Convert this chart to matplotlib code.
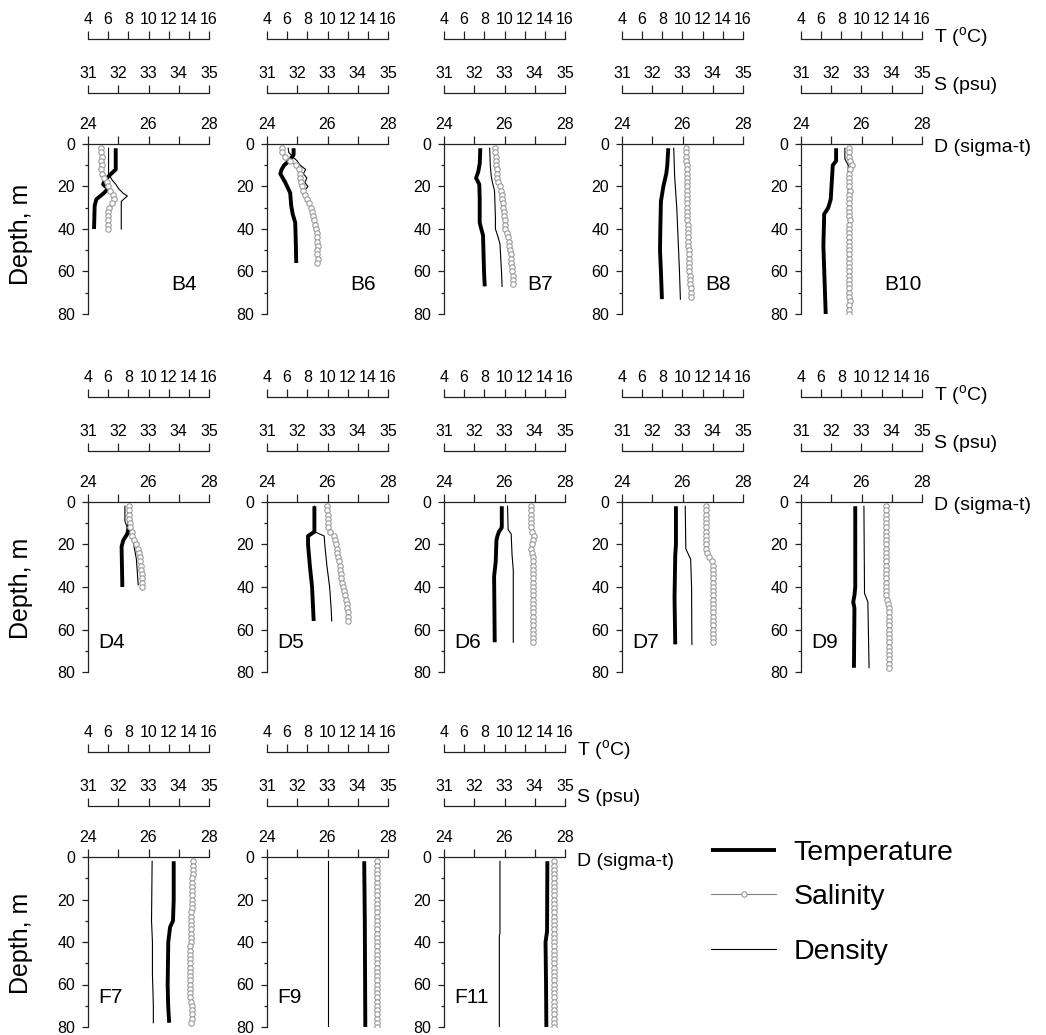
import matplotlib
matplotlib.use('Agg')
import matplotlib.pyplot as plt
from matplotlib.lines import Line2D
from matplotlib.ticker import FixedLocator
import numpy as np

plt.rcParams['font.family'] = ['Liberation Sans', 'DejaVu Sans']
plt.rcParams['mathtext.fontset'] = 'custom'
plt.rcParams['mathtext.rm'] = 'Liberation Sans'

# ---------------- data ----------------
# Temperature (deg C) and density (sigma-t): depth / value pairs
# Salinity (psu): one value every 2 m, starting at 2 m
B4_T_DEPTH = [2, 12, 14, 17, 19, 21, 23, 26, 29, 40]
B4_T = [6.75, 6.75, 6.3, 5.65, 5.5, 5.98, 5.6, 4.83, 4.66, 4.6]
B4_D_DEPTH = [2, 14, 17, 19, 21, 23, 24.5, 25.5, 27, 29, 40]
B4_D = [24.68, 24.68, 24.8, 24.92, 25.01, 25.15, 25.3, 25.22, 25.1, 25.1, 25.1]
B4_S = [31.44, 31.44, 31.45, 31.44, 31.45, 31.44, 31.47, 31.52, 31.62, 31.66,
        31.72, 31.82, 31.87, 31.78, 31.70, 31.67, 31.66, 31.66, 31.65, 31.66]

B6_T_DEPTH = [2, 5, 7.5, 10, 12, 14, 18, 23, 29, 33, 37, 45, 56]
B6_T = [6.64, 6.64, 6.3, 5.7, 5.45, 5.32, 5.8, 6.3, 6.4, 6.55, 6.8, 6.85, 6.9]
B6_D_DEPTH = [2, 4, 6, 8, 10, 12, 14, 16, 18, 20, 21]
B6_D = [24.7, 24.72, 24.85, 25.0, 25.1, 25.28, 25.2, 25.32, 25.25, 25.35, 25.3]
B6_S = [31.50, 31.50, 31.58, 31.75, 31.95, 32.05, 32.10, 32.08, 32.12, 32.15,
        32.18, 32.25, 32.33, 32.40, 32.46, 32.50, 32.52, 32.55, 32.58, 32.62,
        32.66, 32.66, 32.66, 32.67, 32.66, 32.66, 32.67, 32.66]

B7_T_DEPTH = [2, 9, 13, 16, 19, 25, 37, 40, 43, 60, 67]
B7_T = [7.6, 7.55, 7.4, 7.18, 7.5, 7.54, 7.54, 7.7, 7.87, 7.97, 8.04]
B7_D_DEPTH = [2, 10, 15, 18, 22, 35, 40, 43, 47, 60, 67]
B7_D = [25.51, 25.53, 25.56, 25.6, 25.67, 25.7, 25.7, 25.77, 25.85, 25.9, 25.92]
B7_S = [32.70, 32.70, 32.71, 32.72, 32.73, 32.74, 32.75, 32.76, 32.79, 32.85,
        32.88, 32.92, 32.93, 32.95, 32.96, 32.97, 32.98, 33.00, 33.01, 33.03,
        33.08, 33.12, 33.15, 33.16, 33.18, 33.20, 33.22, 33.23, 33.25, 33.26,
        33.27, 33.28, 33.28]

B8_T_DEPTH = [2, 10, 14, 20, 27, 40, 50, 60, 73]
B8_T = [8.59, 8.49, 8.39, 8.1, 7.86, 7.8, 7.77, 7.86, 7.96]
B8_D_DEPTH = [2, 15, 30, 50, 60, 73]
B8_D = [25.71, 25.74, 25.81, 25.87, 25.9, 25.93]
B8_S = [33.13, 33.13, 33.13, 33.13, 33.14, 33.14, 33.14, 33.14, 33.14, 33.14,
        33.15, 33.15, 33.15, 33.15, 33.16, 33.16, 33.16, 33.16, 33.17, 33.17,
        33.18, 33.18, 33.19, 33.19, 33.20, 33.21, 33.21, 33.22,
        33.23, 33.23, 33.24, 33.25, 33.26, 33.27, 33.27, 33.28]

B10_T_DEPTH = [2, 8, 10, 26, 30, 33, 48, 80]
B10_T = [7.48, 7.48, 7.15, 6.95, 6.7, 6.3, 6.22, 6.45]
B10_D_DEPTH = [2, 7, 10, 30, 80]
B10_D = [25.45, 25.45, 25.56, 25.57, 25.58]
B10_S = [32.58, 32.58, 32.59, 32.63, 32.67, 32.61, 32.60, 32.60, 32.60, 32.60,
         32.61, 32.60, 32.60, 32.60, 32.60, 32.60, 32.60, 32.61, 32.60, 32.60,
         32.60, 32.60, 32.60, 32.60, 32.60, 32.60, 32.60, 32.60, 32.60, 32.60,
         32.60, 32.60, 32.60, 32.60, 32.60, 32.60, 32.61, 32.60, 32.60, 32.60]

D4_T_DEPTH = [2, 10, 15, 18, 21, 26, 38, 40]
D4_T = [8.1, 8.1, 7.9, 7.5, 7.33, 7.35, 7.4, 7.4]
D4_D_DEPTH = [2, 9, 12, 15, 19, 27, 39]
D4_D = [25.22, 25.22, 25.3, 25.39, 25.5, 25.6, 25.66]
D4_S = [32.36, 32.36, 32.37, 32.37, 32.38, 32.40, 32.44, 32.47, 32.52, 32.60,
        32.65, 32.68, 32.71, 32.73, 32.75, 32.76, 32.77, 32.78, 32.78, 32.78]

D5_T_DEPTH = [2, 14, 16, 20, 30, 40, 50, 56]
D5_T = [8.7, 8.7, 8.07, 8.07, 8.25, 8.47, 8.57, 8.63]
D5_D_DEPTH = [2, 14, 16, 20, 30, 40, 50, 56]
D5_D = [25.57, 25.57, 25.89, 25.91, 25.98, 26.07, 26.12, 26.14]
D5_S = [32.99, 32.99, 33.00, 33.00, 33.01, 33.03, 33.07, 33.20, 33.26, 33.28,
        33.30, 33.33, 33.36, 33.38, 33.40, 33.42, 33.44, 33.46, 33.48, 33.51,
        33.55, 33.58, 33.62, 33.64, 33.66, 33.67, 33.67, 33.67]

D6_T_DEPTH = [2, 12, 14, 16, 18, 28, 35, 66]
D6_T = [9.73, 9.73, 9.45, 9.3, 9.2, 9.13, 8.97, 9.03]
D6_D_DEPTH = [2, 13, 15, 25, 32, 66]
D6_D = [26.1, 26.12, 26.22, 26.25, 26.29, 26.29]
D6_S = [33.88, 33.88, 33.88, 33.88, 33.88, 33.88, 33.92, 33.99, 33.93, 33.90,
        33.89, 33.92, 33.94, 33.94, 33.94, 33.94, 33.94, 33.94, 33.94, 33.94,
        33.94, 33.94, 33.94, 33.94, 33.94, 33.94, 33.94, 33.94, 33.94, 33.94,
        33.94, 33.94, 33.94]

D7_T_DEPTH = [2, 20, 25, 45, 67]
D7_T = [9.35, 9.35, 9.28, 9.21, 9.28]
D7_D_DEPTH = [2, 22, 27, 40, 67]
D7_D = [26.09, 26.11, 26.27, 26.3, 26.31]
D7_S = [33.78, 33.78, 33.78, 33.78, 33.78, 33.78, 33.78, 33.78, 33.78, 33.78,
        33.78, 33.80, 33.86, 33.96, 34.00, 34.00, 34.00, 34.00, 34.00, 34.00,
        34.00, 34.00, 34.00, 34.00, 34.00, 34.00, 34.00, 34.00, 34.00, 34.00,
        34.00, 34.00, 34.00]

D9_T_DEPTH = [2, 40, 44, 47, 50, 78]
D9_T = [9.38, 9.38, 9.3, 9.18, 9.3, 9.25]
D9_D_DEPTH = [2, 43, 47, 78]
D9_D = [26.08, 26.1, 26.21, 26.25]
D9_S = [33.82, 33.82, 33.82, 33.82, 33.82, 33.82, 33.82, 33.82, 33.82, 33.82,
        33.82, 33.82, 33.82, 33.82, 33.82, 33.82, 33.82, 33.82, 33.82, 33.82,
        33.82, 33.82, 33.85, 33.88, 33.91, 33.92, 33.91, 33.91, 33.91, 33.91,
        33.91, 33.91, 33.91, 33.91, 33.91, 33.91, 33.91, 33.91, 33.91]

F7_T_DEPTH = [2, 20, 30, 33, 40, 60, 70, 78]
F7_T = [12.5, 12.5, 12.43, 12.14, 11.96, 11.9, 11.95, 12.05]
F7_D_DEPTH = [2, 30, 40, 55, 70, 78]
F7_D = [26.12, 26.1, 26.13, 26.13, 26.16, 26.16]
F7_S = [34.48, 34.47, 34.46, 34.46, 34.45, 34.45, 34.45, 34.44, 34.44, 34.44,
        34.43, 34.43, 34.42, 34.42, 34.41, 34.41, 34.40, 34.40, 34.39, 34.39,
        34.38, 34.38, 34.38, 34.38, 34.38, 34.38, 34.38, 34.38, 34.38, 34.38,
        34.38, 34.37, 34.36, 34.40, 34.43, 34.43, 34.43, 34.43, 34.42]

F9_T_DEPTH = [2, 30, 80]
F9_T = [13.64, 13.7, 13.75]
F9_D_DEPTH = [2, 80]
F9_D = [26.0, 26.0]
F9_S = [34.62, 34.62, 34.62, 34.62, 34.62, 34.62, 34.62, 34.62, 34.62, 34.62,
        34.62, 34.62, 34.62, 34.62, 34.62, 34.62, 34.62, 34.62, 34.62, 34.62,
        34.62, 34.62, 34.62, 34.62, 34.62, 34.62, 34.62, 34.62, 34.62, 34.62,
        34.62, 34.62, 34.62, 34.62, 34.62, 34.62, 34.62, 34.62, 34.62, 34.62]

F11_T_DEPTH = [2, 35, 40, 60, 80]
F11_T = [14.25, 14.22, 14.07, 14.12, 14.15]
F11_D_DEPTH = [2, 36, 37, 80]
F11_D = [25.85, 25.85, 25.83, 25.83]
F11_S = [34.63, 34.63, 34.63, 34.63, 34.63, 34.63, 34.63, 34.63, 34.63, 34.63,
         34.63, 34.63, 34.63, 34.63, 34.63, 34.63, 34.63, 34.63, 34.63, 34.63,
         34.63, 34.63, 34.63, 34.63, 34.63, 34.63, 34.63, 34.63, 34.63, 34.63,
         34.63, 34.63, 34.63, 34.63, 34.63, 34.63, 34.63, 34.63, 34.63, 34.63]

ROWS = [
    [("B4", B4_T_DEPTH, B4_T, B4_D_DEPTH, B4_D, B4_S),
     ("B6", B6_T_DEPTH, B6_T, B6_D_DEPTH, B6_D, B6_S),
     ("B7", B7_T_DEPTH, B7_T, B7_D_DEPTH, B7_D, B7_S),
     ("B8", B8_T_DEPTH, B8_T, B8_D_DEPTH, B8_D, B8_S),
     ("B10", B10_T_DEPTH, B10_T, B10_D_DEPTH, B10_D, B10_S)],
    [("D4", D4_T_DEPTH, D4_T, D4_D_DEPTH, D4_D, D4_S),
     ("D5", D5_T_DEPTH, D5_T, D5_D_DEPTH, D5_D, D5_S),
     ("D6", D6_T_DEPTH, D6_T, D6_D_DEPTH, D6_D, D6_S),
     ("D7", D7_T_DEPTH, D7_T, D7_D_DEPTH, D7_D, D7_S),
     ("D9", D9_T_DEPTH, D9_T, D9_D_DEPTH, D9_D, D9_S)],
    [("F7", F7_T_DEPTH, F7_T, F7_D_DEPTH, F7_D, F7_S),
     ("F9", F9_T_DEPTH, F9_T, F9_D_DEPTH, F9_D, F9_S),
     ("F11", F11_T_DEPTH, F11_T, F11_D_DEPTH, F11_D, F11_S)],
]

T_TICKS = [4, 6, 8, 10, 12, 14, 16]
S_TICKS = [31, 32, 33, 34, 35]
D_TICKS = [24, 26, 28]
D_MINOR = [25, 27]
Z_TICKS = [0, 20, 40, 60, 80]
Z_MINOR = [10, 30, 50, 70]

# ---------------- layout ----------------
W, H = 1046, 1035
fig = plt.figure(figsize=(W / 100, H / 100), dpi=100)
PX = 0.72  # points per pixel at dpi 100

COL_LEFT = [88, 267, 444, 622, 801]
ROW_TOP = [144, 502, 857]
AX_W, AX_H = 121, 170
T_OFF, S_OFF = 105, 51

TICK_FS = 11.5
LABEL_FS = 14
STATION_FS = 15

T_STYLE = dict(color='black', lw=2.8, solid_joinstyle='round', solid_capstyle='butt')
S_STYLE = dict(color='#808080', lw=0.8, marker='o', ms=3.9, mfc='white',
               mec='#9a9a9a', mew=0.8)
D_STYLE = dict(color='black', lw=0.8)

for r, row in enumerate(ROWS):
    top = ROW_TOP[r]
    for c, (name, tdep, tval, ddep, dval, sval) in enumerate(row):
        left = COL_LEFT[c]
        ax = fig.add_axes([left / W, 1 - (top + AX_H) / H, AX_W / W, AX_H / H])
        ax_t = ax.twiny()
        ax_s = ax.twiny()
        ax.xaxis.tick_top()
        ax.xaxis.set_label_position('top')
        ax.set_xlim(24, 28)
        ax_t.set_xlim(4, 16)
        ax_s.set_xlim(31, 35)
        ax.set_ylim(80, 0)

        for a in (ax, ax_t, ax_s):
            a.spines['right'].set_visible(False)
            a.spines['bottom'].set_visible(False)
            a.patch.set_visible(False)
        for a in (ax_t, ax_s):
            a.spines['left'].set_visible(False)
        ax_t.spines['top'].set_position(('outward', T_OFF * PX))
        ax_s.spines['top'].set_position(('outward', S_OFF * PX))
        for a in (ax, ax_t, ax_s):
            for sp in a.spines.values():
                sp.set_linewidth(0.9)
                sp.set_color('#222222')

        ax.xaxis.set_major_locator(FixedLocator(D_TICKS))
        ax.xaxis.set_minor_locator(FixedLocator(D_MINOR))
        ax.yaxis.set_major_locator(FixedLocator(Z_TICKS))
        ax.yaxis.set_minor_locator(FixedLocator(Z_MINOR))
        ax_t.xaxis.set_major_locator(FixedLocator(T_TICKS))
        ax_s.xaxis.set_major_locator(FixedLocator(S_TICKS))

        for a in (ax, ax_t, ax_s):
            a.tick_params(axis='x', which='both', direction='out', length=8 * PX,
                          width=0.9, color='#222222', top=True, bottom=False,
                          labeltop=True, labelbottom=False, pad=3,
                          labelsize=TICK_FS)
        ax.tick_params(axis='y', which='major', direction='out', length=6 * PX,
                       width=0.9, color='#222222', labelsize=TICK_FS, pad=5)
        ax.tick_params(axis='y', which='minor', direction='out', length=3 * PX,
                       width=0.9, color='#222222')

        sdep = np.arange(2, 2 * len(sval) + 1, 2)
        ax.plot(dval, ddep, **D_STYLE)
        ax_t.plot(tval, tdep, **T_STYLE)
        ax_s.plot(sval, sdep, **S_STYLE)

        if r == 0:
            ax.text(26.75, 66, name, fontsize=STATION_FS, ha='left', va='center')
        else:
            ax.text(24.35, 66, name, fontsize=STATION_FS, ha='left', va='center')

        if c == 0:
            ax.set_ylabel('Depth, m', fontsize=18)
            ax.yaxis.set_label_coords((33 - 88) / AX_W, 0.47 if r == 0 else 0.49)

        if c == len(row) - 1:
            xl = (left + AX_W + 12) / W
            fig.text(xl, 1 - (top - T_OFF - 1) / H, r'T ($^{\mathregular{o}}$C)',
                     fontsize=LABEL_FS, ha='left', va='center')
            fig.text(xl, 1 - (top - S_OFF - 8) / H, 'S (psu)',
                     fontsize=LABEL_FS, ha='left', va='center')
            fig.text(xl, 1 - (top + 4) / H, 'D (sigma-t)',
                     fontsize=LABEL_FS, ha='left', va='center')

# ---------------- legend ----------------
h_t = Line2D([], [], **T_STYLE)
h_s = Line2D([], [], **S_STYLE)
h_d = Line2D([], [], **D_STYLE)
for h, lab, yc in [(h_t, 'Temperature', 853), (h_s, 'Salinity', 897),
                   (h_d, 'Density', 952)]:
    fig.legend(handles=[h], labels=[lab], loc='center left',
               bbox_to_anchor=(711 / W, 1 - yc / H), frameon=False,
               borderpad=0, borderaxespad=0, handlelength=2.3,
               handletextpad=0.6, fontsize=20.5, numpoints=1)

fig.savefig('out.png', dpi=100)
